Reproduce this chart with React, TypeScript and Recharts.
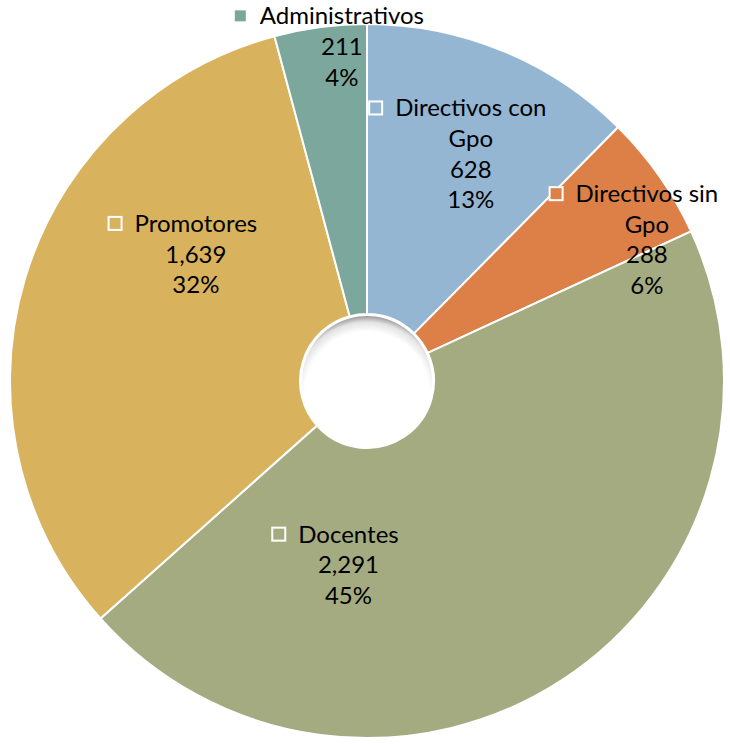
import { PieChart, Pie, Cell } from "recharts";

const NAMES = ["Directivos con Gpo", "Directivos sin Gpo", "Docentes", "Promotores", "Administrativos"];
const COUNTS = [628, 288, 2291, 1639, 211];
// percentages as printed on the original labels
const SHARES = [13, 6, 45, 32, 4];
const COLORS = ["#94B6D2", "#DD8047", "#A5AB81", "#D8B25C", "#7BA79D"];

// where each label block sits: angle clockwise from 12 o'clock, radius as share of outerRadius
const LABEL_SPOTS = [
  { angle: 25.4, r: 0.678, wrap: true },
  { angle: 64.6, r: 0.868, wrap: true },
  { angle: 185.5, r: 0.541, wrap: false },
  { angle: 304.7, r: 0.583, wrap: false },
  { angle: 355.6, r: 0.916, wrap: false },
];

const FONT = "Lato, 'DejaVu Sans', sans-serif";
const FONT_SIZE = 24;
const LINE = 30.6;

const rows = NAMES.map((name, i) => ({ name, value: COUNTS[i], share: SHARES[i], color: COLORS[i] }));

let ctx: CanvasRenderingContext2D | null = null;
function textWidth(s: string) {
  if (!ctx) ctx = document.createElement("canvas").getContext("2d");
  if (!ctx) return s.length * FONT_SIZE * 0.5;
  ctx.font = `${FONT_SIZE}px Lato`;
  return ctx.measureText(s).width;
}

function SliceLabel(props: any) {
  const { cx, cy, outerRadius, index } = props;
  const row = rows[index];
  const spot = LABEL_SPOTS[index];
  const rad = (spot.angle * Math.PI) / 180;
  const x0 = cx + outerRadius * spot.r * Math.sin(rad);
  const yMid = cy - outerRadius * spot.r * Math.cos(rad);

  const words = row.name.split(" ");
  const first = spot.wrap ? words.slice(0, -1).join(" ") : row.name;
  const lines = spot.wrap ? [first, words[words.length - 1]] : [first];
  lines.push(row.value.toLocaleString("en-US"), `${row.share}%`);

  const n = lines.length;
  const base = (i: number) => yMid + (i - (n - 1) / 2) * LINE;
  const tw = textWidth(first);
  const keyX = x0 - tw / 2 - 26;

  return (
    <g>
      <rect x={keyX} y={base(0) - 15} width={13} height={13} fill={row.color} stroke="#ffffff" strokeWidth={2} />
      {lines.map((t, i) => (
        <text
          key={i}
          x={x0}
          y={base(i)}
          textAnchor="middle"
          fontFamily={FONT}
          fontSize={FONT_SIZE}
          fill="#000000"
        >
          {t}
        </text>
      ))}
    </g>
  );
}

export default function App() {
  return (
    <div style={{ position: "absolute", left: 0, top: 0, background: "#ffffff" }}>
      <PieChart width={730} height={745} margin={{ top: 0, right: 0, bottom: 0, left: 0 }}>
        <defs>
          <radialGradient id="holeShade" cx="50%" cy="60%" r="60%">
            <stop offset="0.8" stopColor="#ffffff" />
            <stop offset="0.92" stopColor="#e3e3e3" />
            <stop offset="1" stopColor="#9a9a9a" />
          </radialGradient>
        </defs>
        <Pie
          data={rows}
          dataKey="value"
          nameKey="name"
          cx={367}
          cy={381}
          startAngle={90}
          endAngle={-270}
          innerRadius={67}
          outerRadius={357}
          stroke="#ffffff"
          strokeWidth={2}
          label={SliceLabel}
          labelLine={false}
          isAnimationActive={false}
        >
          {rows.map((r) => (
            <Cell key={r.name} fill={r.color} />
          ))}
        </Pie>
        <Pie
          data={[{ name: "hole", value: 1 }]}
          dataKey="value"
          cx={367}
          cy={381}
          innerRadius={0}
          outerRadius={65}
          stroke="none"
          fill="url(#holeShade)"
          isAnimationActive={false}
        />
      </PieChart>
    </div>
  );
}
